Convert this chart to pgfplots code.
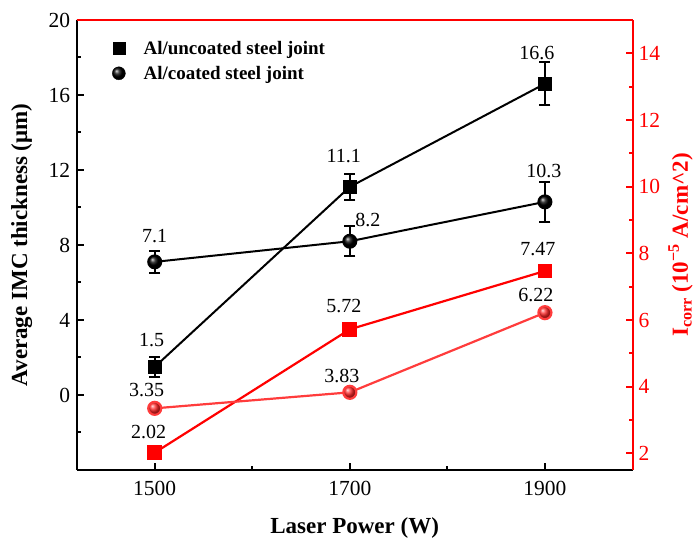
\documentclass[border=0pt]{standalone}
\usepackage{fontspec}
\setmainfont{Liberation Serif}
\usepackage{pgfplots}
\usepackage{pgfplotstable}
\pgfplotsset{compat=1.18}
\definecolor{coatred}{RGB}{255,60,60}

\pgfplotstableread{
x y e lab dx dy
1500 1.5 0.55 1.5 -3 27
1700 11.1 0.68 11.1 -6 31
1900 16.6 1.15 16.6 -8 31
}\uncoatedimc
\pgfplotstableread{
x y e lab dx dy
1500 7.1 0.6 7.1 0 26
1700 8.2 0.8 8.2 18 21
1900 10.3 1.07 10.3 -1 31
}\coatedimc
\pgfplotstableread{
x y lab dx dy
1500 2.02 2.02 -6 21
1700 5.72 5.72 -6 23
1900 7.47 7.47 -7 22
}\uncoatedcorr
\pgfplotstableread{
x y lab dx dy
1500 3.35 3.35 -8 18
1700 3.83 3.83 -8 16
1900 6.22 6.22 -9 18
}\coatedcorr

\begin{document}
\begin{tikzpicture}
\pgfplotsset{
  common/.style={
    scale only axis, width=556pt, height=450pt,
    xmin=1420, xmax=1990,
    tick align=inside,
    major tick length=7pt, minor tick length=4pt,
    /pgf/number format/assume math mode=true,
    /pgf/number format/1000 sep={},
    tick label style={font=\fontsize{21.5}{25}\selectfont},
    label style={font=\bfseries\fontsize{23}{27}\selectfont, inner sep=0pt},
    clip=false,
  },
  lab/.style={
    point meta=explicit symbolic,
    nodes near coords,
    visualization depends on={\thisrow{dx} \as \ddx},
    visualization depends on={\thisrow{dy} \as \ddy},
    nodes near coords style={anchor=center, xshift=\ddx pt, yshift=\ddy pt,
      font=\fontsize{20}{24}\selectfont, text=black, inner sep=0pt},
  },
}
\begin{axis}[
  common,
  ymin=-4, ymax=20,
  axis x line*=bottom, axis y line*=left,
  axis line style={line width=2.2pt, -},
  xtick={1500,1700,1900}, minor xtick={1600,1800},
  ytick={0,4,...,20}, minor ytick={-2,2,6,10,14,18},
  every tick/.style={black, line width=2pt},
  xticklabel style={yshift=-8pt},
  yticklabel style={xshift=-3pt},
  xlabel={Laser Power (W)},
  ylabel={Average IMC thickness (μm)},
  xlabel style={at={(axis description cs:0.5,-0.129)}, anchor=center},
  ylabel style={at={(axis description cs:-0.099,0.5)}, anchor=center},
  legend style={draw=none, fill=none, at={(0.058,0.962)}, anchor=north west,
    font=\bfseries\fontsize{19}{22}\selectfont, row sep=6pt, column sep=16pt},
  legend cell align=left,
]
\addlegendimage{only marks, mark=square*, black, mark size=6pt}
\addlegendentry{Al/uncoated steel joint}
\addlegendimage{only marks, mark=ball, mark options={ball color=black}, mark size=6.5pt}
\addlegendentry{Al/coated steel joint}

\addplot[black, line width=2pt, mark=square*, mark size=6pt, lab,
  error bars/.cd, y dir=both, y explicit,
  error bar style={line width=2pt, black},
  error mark options={rotate=90, black, mark size=5.5pt, line width=2pt}]
  table[x=x, y=y, y error=e, meta=lab] {\uncoatedimc};
\addplot[black, line width=2pt, mark=ball, mark options={ball color=black}, mark size=6.5pt, lab,
  error bars/.cd, y dir=both, y explicit,
  error bar style={line width=2pt, black},
  error mark options={rotate=90, black, mark size=5.5pt, line width=2pt}]
  table[x=x, y=y, y error=e, meta=lab] {\coatedimc};
\end{axis}

\begin{axis}[
  common,
  ymin=1.5, ymax=15,
  axis y line*=right, axis x line*=top,
  xtick=\empty,
  axis line style={red, line width=2.2pt, -},
  ytick={2,4,...,14}, minor ytick={3,5,...,13},
  every tick/.style={red, line width=2pt},
  yticklabel style={red, xshift=2.5pt},
  ylabel={I\textsubscript{corr} (10\textsuperscript{−5} A/cm\^{}2)},
  ylabel style={red, at={(axis description cs:1.086,0.5)}, anchor=center},
]
\addplot[red, line width=2.2pt, mark=square*, mark size=6.3pt, lab]
  table[x=x, y=y, meta=lab] {\uncoatedcorr};
\addplot[coatred, line width=2.2pt, mark=ball, mark options={ball color=red!85!white}, mark size=6.5pt, lab]
  table[x=x, y=y, meta=lab] {\coatedcorr};
\end{axis}
\path ([xshift=-76.7pt,yshift=-70pt]current axis.south west) rectangle ([xshift=65.3pt,yshift=20pt]current axis.north east);
\end{tikzpicture}
\end{document}
